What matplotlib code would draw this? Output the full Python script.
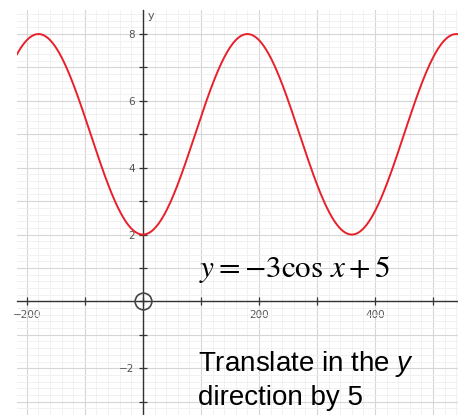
import numpy as np
import matplotlib.pyplot as plt
from matplotlib.ticker import MultipleLocator, FixedLocator, FixedFormatter

# Данные графика y = -3cos x + 5 (x в градусах)
amplitude = -3
shift = 5
x_range = [-217, 543]
y_range = [-3.4, 8.72]
x_tick_values = [-200, -100, 0, 100, 200, 300, 400, 500]
x_tick_labels = ["\u2212200", "", "", "", "200", "", "400", ""]
y_tick_values = [-3, -2, -1, 0, 1, 2, 3, 4, 5, 6, 7, 8]
y_tick_labels = ["", "\u22122", "", "", "", "2", "", "4", "", "6", "", "8"]

x = np.linspace(x_range[0], x_range[1], 800)
y = amplitude * np.cos(np.radians(x)) + shift

plt.rcParams["mathtext.fontset"] = "custom"
plt.rcParams["mathtext.it"] = "Liberation Sans:italic"
plt.rcParams["mathtext.rm"] = "Liberation Sans"

fig = plt.figure(figsize=(4.58, 4.15), dpi=100)
ax = fig.add_axes([17 / 458, 0, 1 - 17 / 458, 1 - 10 / 415])

# Сетка
ax.xaxis.set_minor_locator(MultipleLocator(20))
ax.yaxis.set_minor_locator(MultipleLocator(0.2))
ax.grid(which="major", color="#d6d6d6", linewidth=0.8)
ax.grid(which="minor", color="#efefef", linewidth=0.6)
ax.set_axisbelow(True)

# Кривая
ax.plot(x, y, color="#e8202a", linewidth=1.4, zorder=3)

# Оси через начало координат
ax.spines["left"].set_position(("data", 0))
ax.spines["bottom"].set_position(("data", 0))
ax.spines["right"].set_visible(False)
ax.spines["top"].set_visible(False)
for s in ("left", "bottom"):
    ax.spines[s].set_color("#333333")
    ax.spines[s].set_linewidth(1.0)

ax.xaxis.set_major_locator(FixedLocator(x_tick_values))
ax.xaxis.set_major_formatter(FixedFormatter(x_tick_labels))
ax.yaxis.set_major_locator(FixedLocator(y_tick_values))
ax.yaxis.set_major_formatter(FixedFormatter(y_tick_labels))
ax.tick_params(which="major", direction="inout", length=6, width=0.9,
               color="#333333", labelsize=7.5, labelcolor="#555555", pad=3)
ax.tick_params(which="minor", length=0)

ax.set_xlim(x_range)
ax.set_ylim(y_range)

# Кружок в начале координат
ax.plot([0], [0], marker="o", markersize=12, markerfacecolor="none",
        markeredgecolor="#444444", markeredgewidth=1.2, zorder=4, clip_on=False)

ax.text(9, 8.55, "y", fontsize=8, color="#555555", ha="left", va="center")

# Подписи
ax.text(97, 0.72, r"$y=-3\cos\,x+5$", fontsize=22.5, color="black",
        math_fontfamily="stix", ha="left", va="baseline")
ax.text(95, -2.07, "Translate in the $y$", fontsize=20,
        family="Liberation Sans", color="black", ha="left", va="baseline")
ax.text(95, -3.1, "direction by 5", fontsize=20,
        family="Liberation Sans", color="black", ha="left", va="baseline")

fig.savefig("out.png", dpi=100)
